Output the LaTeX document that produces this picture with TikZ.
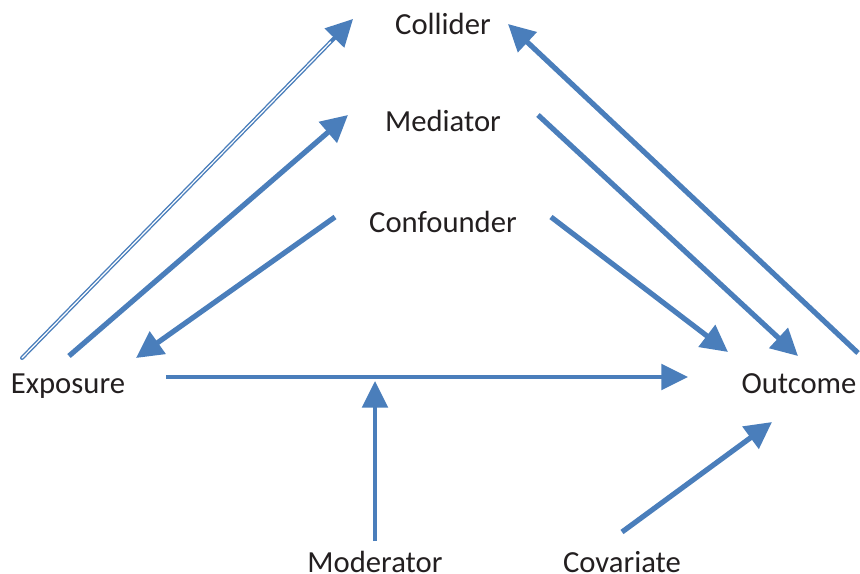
\documentclass[tikz,border=0pt]{standalone}
\usepackage{fontspec}
\setmainfont{Carlito}
\usetikzlibrary{arrows.meta}
\definecolor{arrblue}{HTML}{4A7EBB}
\definecolor{txt}{HTML}{231F20}
\begin{document}
\begin{tikzpicture}[x=0.75pt,y=-0.75pt,
  lab/.style={anchor=base,inner sep=0pt,text=txt,font=\fontsize{23}{27}\selectfont},
  conn/.style={draw=arrblue,line width=3.9pt,-{Triangle[length=20pt,width=20pt]}},
  connh/.style={draw=arrblue,line width=3.4pt,-{Triangle[length=20pt,width=19pt]}},
  conndbl/.style={draw=arrblue,line width=3pt,line cap=round,-{Triangle[length=20pt,width=20pt]}},
  inner/.style={draw=white,line width=0.9pt,line cap=round}]
\useasboundingbox (0,0) rectangle (860,574);
% labels
\node[lab] (collider) at (443,35) {Collider};
\node[lab] (mediator) at (443,132) {Mediator};
\node[lab] (confounder) at (443,233) {Confounder};
\node[lab] (exposure) at (68,393) {Exposure};
\node[lab] (outcome) at (799,393) {Outcome};
\node[lab] (moderator) at (375,572) {Moderator};
\node[lab] (covariate) at (622,572) {Covariate};
% endpoints
\coordinate (eC) at (22,358);
\coordinate (cE) at (353,19);
\coordinate (eM) at (69,356);
\coordinate (mE) at (348,115);
\coordinate (fS) at (335,217);
\coordinate (fE) at (136,358);
\coordinate (eO) at (166,377);
\coordinate (oE) at (688,377);
\coordinate (modS) at (375,541);
\coordinate (modT) at (375,381);
\coordinate (covS) at (622,532);
\coordinate (covT) at (772,422);
\coordinate (fS2) at (551,217);
\coordinate (fO) at (728,352);
\coordinate (mS) at (538,115);
\coordinate (mO) at (798,356);
\coordinate (oS) at (858,353);
\coordinate (oC) at (508,24);
% connectors
\draw[conndbl] (eC) -- (cE);
\draw[inner,shorten >=24pt] (eC) -- (cE);
\draw[conn] (eM) -- (mE);
\draw[conn] (fS) -- (fE);
\draw[connh] (eO) -- (oE);
\draw[connh] (modS) -- (modT);
\draw[conn] (covS) -- (covT);
\draw[conn] (fS2) -- (fO);
\draw[conn] (mS) -- (mO);
\draw[conn] (oS) -- (oC);
\end{tikzpicture}
\end{document}
